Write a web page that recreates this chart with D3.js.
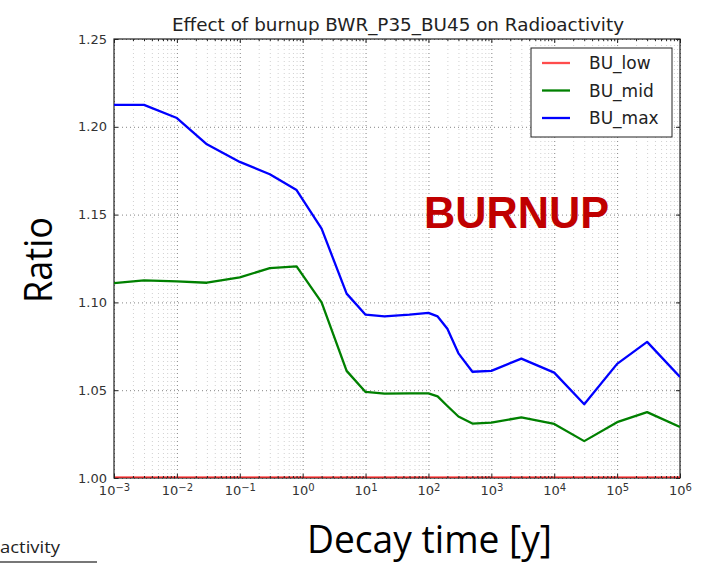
<!DOCTYPE html>
<html>
<head>
<meta charset="utf-8">
<script src="https://cdn.jsdelivr.net/npm/d3@7"></script>
<style>
  body { margin: 0; background: #fff; }
  svg { display: block; }
  .c-axis path { display: none; }
  .c-axis line { stroke: #222; }
  .c-axis text { font-family: "DejaVu Sans", sans-serif; font-size: 13px; fill: #333; }
  .c-grid path { display: none; }
  .c-grid line { stroke: #666; stroke-dasharray: 1 3; stroke-width: 0.8; }
  .c-grid.c-minor line { stroke: #c4c4c4; }
</style>
</head>
<body>
<div id="chart"></div>
<script>
// decay time in years
const decayYears = [0.001, 0.003, 0.01, 0.03, 0.1, 0.3, 0.8, 2, 5, 10, 20, 50, 100, 140, 200, 300, 500, 1000, 3000, 1e4, 3e4, 1e5, 3e5, 1e6];

const buLow = [1.0, 1.0, 1.0, 1.0, 1.0, 1.0, 1.0, 1.0, 1.0, 1.0, 1.0, 1.0, 1.0, 1.0, 1.0, 1.0, 1.0, 1.0, 1.0, 1.0, 1.0, 1.0, 1.0, 1.0];
const buMid = [1.111, 1.1125, 1.112, 1.1112, 1.1143, 1.1195, 1.1205, 1.100, 1.061, 1.049, 1.048, 1.0482, 1.0482, 1.0465, 1.041, 1.035, 1.031, 1.0315, 1.0345, 1.0308, 1.021, 1.0318, 1.0375, 1.029];
const buMax = [1.2125, 1.2125, 1.205, 1.19, 1.180, 1.173, 1.164, 1.142, 1.105, 1.093, 1.092, 1.093, 1.094, 1.092, 1.085, 1.071, 1.0605, 1.061, 1.068, 1.060, 1.042, 1.065, 1.0775, 1.0575];

const seriesNames = ['BU_low', 'BU_mid', 'BU_max'];
const seriesColors = ['#ff0000', '#008000', '#0000ff'];

const yTicks = [1.00, 1.05, 1.10, 1.15, 1.20, 1.25];
const xTickExponents = [-3, -2, -1, 0, 1, 2, 3, 4, 5, 6];

const titleText = 'Effect of burnup BWR_P35_BU45 on Radioactivity';

const width = 705;
const height = 565;
const plotLeft = 114;
const plotRight = 680;
const plotTop = 39;
const plotBottom = 478;

const svg = d3.select('#chart')
  .append('svg')
  .attr('width', width)
  .attr('height', height);

const x = d3.scaleLog().domain([1e-3, 1e6]).range([plotLeft, plotRight]);
const y = d3.scaleLinear().domain([1.0, 1.25]).range([plotBottom, plotTop]);

const majorX = xTickExponents.map((e) => Math.pow(10, e));
const minorX = [];
for (let e = -3; e < 6; e++) {
  for (let k = 2; k < 10; k++) {
    minorX.push(k * Math.pow(10, e));
  }
}

// grid lines
svg.append('g')
  .attr('class', 'c-grid c-minor')
  .attr('transform', 'translate(0,' + plotBottom + ')')
  .call(d3.axisBottom(x).tickValues(minorX).tickSizeInner(-(plotBottom - plotTop)).tickSizeOuter(0).tickFormat(''));

svg.append('g')
  .attr('class', 'c-grid')
  .attr('transform', 'translate(0,' + plotBottom + ')')
  .call(d3.axisBottom(x).tickValues(majorX).tickSizeInner(-(plotBottom - plotTop)).tickSizeOuter(0).tickFormat(''));

svg.append('g')
  .attr('class', 'c-grid')
  .attr('transform', 'translate(' + plotLeft + ',0)')
  .call(d3.axisLeft(y).tickValues(yTicks).tickSizeInner(-(plotRight - plotLeft)).tickSizeOuter(0).tickFormat(''));

// frame (drawn under the lines so the red baseline stays visible)
svg.append('rect')
  .attr('x', plotLeft)
  .attr('y', plotTop)
  .attr('width', plotRight - plotLeft)
  .attr('height', plotBottom - plotTop)
  .attr('fill', 'none')
  .attr('stroke', '#222')
  .attr('stroke-width', 1.2);

// data lines
svg.append('clipPath')
  .attr('id', 'plotClip')
  .append('rect')
  .attr('x', plotLeft)
  .attr('y', plotTop)
  .attr('width', plotRight - plotLeft)
  .attr('height', plotBottom - plotTop);

const series = [buLow, buMid, buMax];
const line = d3.line()
  .x((d, i) => x(decayYears[i]))
  .y((d) => y(d));

svg.append('g')
  .attr('clip-path', 'url(#plotClip)')
  .selectAll('path')
  .data(series)
  .enter()
  .append('path')
  .attr('d', (d) => line(d))
  .attr('fill', 'none')
  .attr('stroke', (d, i) => seriesColors[i])
  .attr('stroke-opacity', (d, i) => i === 0 ? 0.65 : 1)
  .attr('stroke-width', (d, i) => i === 0 ? 3.6 : 2.3)
  .attr('stroke-linejoin', 'round');

// ticks, pointing inward on all four sides
const bottomAxis = svg.append('g')
  .attr('class', 'c-axis')
  .attr('transform', 'translate(0,' + plotBottom + ')')
  .call(d3.axisBottom(x).tickValues(majorX).tickSizeInner(-4).tickSizeOuter(0).tickFormat(''));

bottomAxis.selectAll('.tick text')
  .attr('dy', '0.71em')
  .attr('y', 8)
  .attr('font-size', '14px')
  .each(function (d, i) {
    const t = d3.select(this);
    t.append('tspan').text('10');
    t.append('tspan')
      .attr('dy', '-0.45em')
      .attr('font-size', '10px')
      .text(String(xTickExponents[i]).replace('-', '\u2212'));
  });

svg.append('g')
  .attr('class', 'c-axis')
  .attr('transform', 'translate(0,' + plotBottom + ')')
  .call(d3.axisBottom(x).tickValues(minorX).tickSizeInner(-2).tickSizeOuter(0).tickFormat(''));

svg.append('g')
  .attr('class', 'c-axis')
  .attr('transform', 'translate(0,' + plotTop + ')')
  .call(d3.axisTop(x).tickValues(majorX).tickSizeInner(-4).tickSizeOuter(0).tickFormat(''));

svg.append('g')
  .attr('class', 'c-axis')
  .attr('transform', 'translate(0,' + plotTop + ')')
  .call(d3.axisTop(x).tickValues(minorX).tickSizeInner(-2).tickSizeOuter(0).tickFormat(''));

svg.append('g')
  .attr('class', 'c-axis')
  .attr('transform', 'translate(' + plotLeft + ',0)')
  .call(d3.axisLeft(y).tickValues(yTicks).tickSizeInner(-4).tickSizeOuter(0).tickPadding(7).tickFormat(d3.format('.2f')));

svg.append('g')
  .attr('class', 'c-axis')
  .attr('transform', 'translate(' + plotRight + ',0)')
  .call(d3.axisRight(y).tickValues(yTicks).tickSizeInner(-4).tickSizeOuter(0).tickFormat(''));

// title
svg.append('text')
  .attr('x', 398)
  .attr('y', 31)
  .attr('text-anchor', 'middle')
  .attr('font-family', '"DejaVu Sans", sans-serif')
  .attr('font-size', '17px')
  .attr('textLength', 452)
  .attr('lengthAdjust', 'spacingAndGlyphs')
  .attr('fill', '#222')
  .text(titleText);

// legend
const legend = svg.append('g').attr('transform', 'translate(531,48)');
legend.append('rect')
  .attr('width', 141)
  .attr('height', 89)
  .attr('fill', '#fff')
  .attr('stroke', '#222')
  .attr('stroke-width', 1);

const legendItem = legend.selectAll('g.c-legend-item')
  .data(seriesNames)
  .enter()
  .append('g')
  .attr('class', 'c-legend-item')
  .attr('transform', (d, i) => 'translate(0,' + (15 + i * 27.5) + ')');

legendItem.append('line')
  .attr('x1', 11)
  .attr('x2', 39)
  .attr('stroke', (d, i) => seriesColors[i])
  .attr('stroke-opacity', (d, i) => i === 0 ? 0.7 : 1)
  .attr('stroke-width', 2.3);

legendItem.append('text')
  .attr('x', 58)
  .attr('dy', '0.36em')
  .attr('font-family', '"DejaVu Sans", sans-serif')
  .attr('font-size', '17px')
  .attr('fill', '#222')
  .text((d) => d);

// slide annotations
svg.append('text')
  .attr('transform', 'translate(52,260) rotate(-90)')
  .attr('text-anchor', 'middle')
  .attr('font-family', '"Open Sans", sans-serif')
  .attr('font-size', '38px')
  .attr('textLength', 86)
  .attr('lengthAdjust', 'spacingAndGlyphs')
  .attr('fill', '#000')
  .text('Ratio');

svg.append('text')
  .attr('x', 307)
  .attr('y', 553)
  .attr('font-family', '"Open Sans", sans-serif')
  .attr('font-size', '38px')
  .attr('textLength', 245)
  .attr('lengthAdjust', 'spacingAndGlyphs')
  .attr('fill', '#000')
  .text('Decay time [y]');

svg.append('text')
  .attr('x', 424)
  .attr('y', 228)
  .attr('font-family', '"Liberation Sans", sans-serif')
  .attr('font-weight', 'bold')
  .attr('font-size', '45px')
  .attr('textLength', 185)
  .attr('lengthAdjust', 'spacingAndGlyphs')
  .attr('fill', '#c00000')
  .text('BURNUP');

// cut-off piece of another figure in the bottom left corner
svg.append('text')
  .attr('x', 0)
  .attr('y', 553)
  .attr('font-family', '"Open Sans", sans-serif')
  .attr('font-size', '17px')
  .attr('textLength', 60)
  .attr('lengthAdjust', 'spacingAndGlyphs')
  .attr('fill', '#222')
  .text('activity');

svg.append('line')
  .attr('x1', 0)
  .attr('x2', 97)
  .attr('y1', 562)
  .attr('y2', 562)
  .attr('stroke', '#777')
  .attr('stroke-width', 2);
</script>
</body>
</html>
